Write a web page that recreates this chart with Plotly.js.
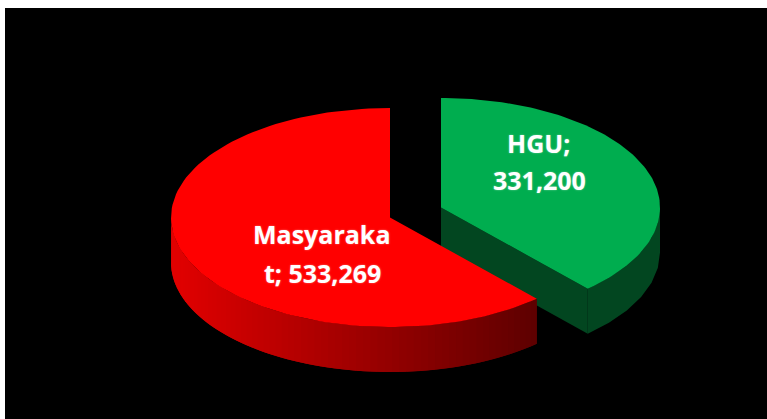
<!DOCTYPE html>
<html>
<head>
<meta charset="utf-8">
<script src="https://cdn.plot.ly/plotly-3.0.1.min.js"></script>
<style>
  html, body { margin: 0; padding: 0; background: #fff; }
  #chart { width: 767px; height: 419px; }
</style>
</head>
<body>
<div id="chart"></div>
<script>
// Values
var categories = ["HGU", "Masyarakat"];
var values = [331200, 533269];
var labelLines = [["HGU;", "331,200"], ["Masyaraka", "t; 533,269"]];

// Pie geometry, in page pixels so the axes line up with the picture
var centers = [[441, 207.5], [390, 217.5]];
var radiusX = 219, radiusY = 109.5, depth = 45;
var labelPos = [[[538, 143], [539, 180]], [[321, 234], [322, 273]]];

var total = values[0] + values[1];
var sweep = values[0] / total * 2 * Math.PI;   // green slice starts at 12 o'clock

function rimPoint(c, a, drop) {
  return [c[0] + radiusX * Math.sin(a), c[1] - radiusY * Math.cos(a) + drop];
}

// closed polygon from a list of [x, y]
function poly(points, color, lineWidth) {
  var xs = points.map(p => p[0]);
  var ys = points.map(p => p[1]);
  xs.push(xs[0]);
  ys.push(ys[0]);
  return {
    x: xs, y: ys, type: "scatter", mode: "lines", fill: "toself",
    fillcolor: color, line: { color: color, width: lineWidth }, hoverinfo: "skip"
  };
}

function arc(c, from, to, drop, n) {
  var pts = [];
  for (var i = 0; i <= n; i++) {
    pts.push(rimPoint(c, from + (to - from) * i / n, drop));
  }
  return pts;
}

function wedge(c, from, to, color) {
  return poly([c].concat(arc(c, from, to, 0, 120)), color, 0);
}

function wall(c, from, to, color, lineWidth) {
  return poly(arc(c, from, to, 0, 6).concat(arc(c, to, from, depth, 6)), color, lineWidth);
}

// red wall gets darker towards the right
function redShade(x) {
  var t = (x - 171) / 366;
  return "rgb(" + Math.round(226 - 134 * t) + ",0,0)";
}

var traces = [];

// green slice: walls, cut face, top
var gc = centers[0];
var greenTip = rimPoint(gc, sweep, 0);
traces.push(wall(gc, Math.PI / 2, sweep, "#024620", 0));
traces.push(poly([gc, greenTip, [greenTip[0], greenTip[1] + depth], [gc[0], gc[1] + depth]], "#024620", 0));
traces.push(wedge(gc, 0, sweep, "#00ad4f"));

// red slice: wall in strips for the gradient, each overlapping the next so no seams show
var rc = centers[1];
var steps = 70;
var wallFrom = 1.5 * Math.PI;
for (var i = 0; i < steps; i++) {
  var a0 = wallFrom + (sweep - wallFrom) * i / steps;
  var a1 = wallFrom + (sweep - wallFrom) * (i + 2) / steps;
  if (i === steps - 1) a1 = sweep;
  traces.push(wall(rc, a0, a1, redShade(rimPoint(rc, a0, 0)[0]), 0));
}
traces.push(wedge(rc, sweep, 2 * Math.PI, "#ff0000"));

var annotations = [];
labelLines.forEach(function (lines, i) {
  lines.forEach(function (txt, j) {
    annotations.push({
      x: labelPos[i][j][0], y: labelPos[i][j][1], xref: "x", yref: "y",
      text: "<b>" + txt + "</b>", showarrow: false,
      font: { family: "Open Sans, sans-serif", size: 25, color: "#fff", shadow: "0 0 2px rgba(255,255,255,0.45)" }
    });
  });
});

var layout = {
  width: 767, height: 419,
  margin: { l: 5, t: 8, r: 0, b: 0, pad: 0 },
  paper_bgcolor: "#fff",
  plot_bgcolor: "#000",
  showlegend: false,
  hovermode: false,
  xaxis: { range: [5, 767], visible: false, fixedrange: true },
  yaxis: { range: [419, 8], visible: false, fixedrange: true },
  annotations: annotations
};

Plotly.newPlot("chart", traces, layout, { displayModeBar: false, staticPlot: true });
</script>
</body>
</html>
